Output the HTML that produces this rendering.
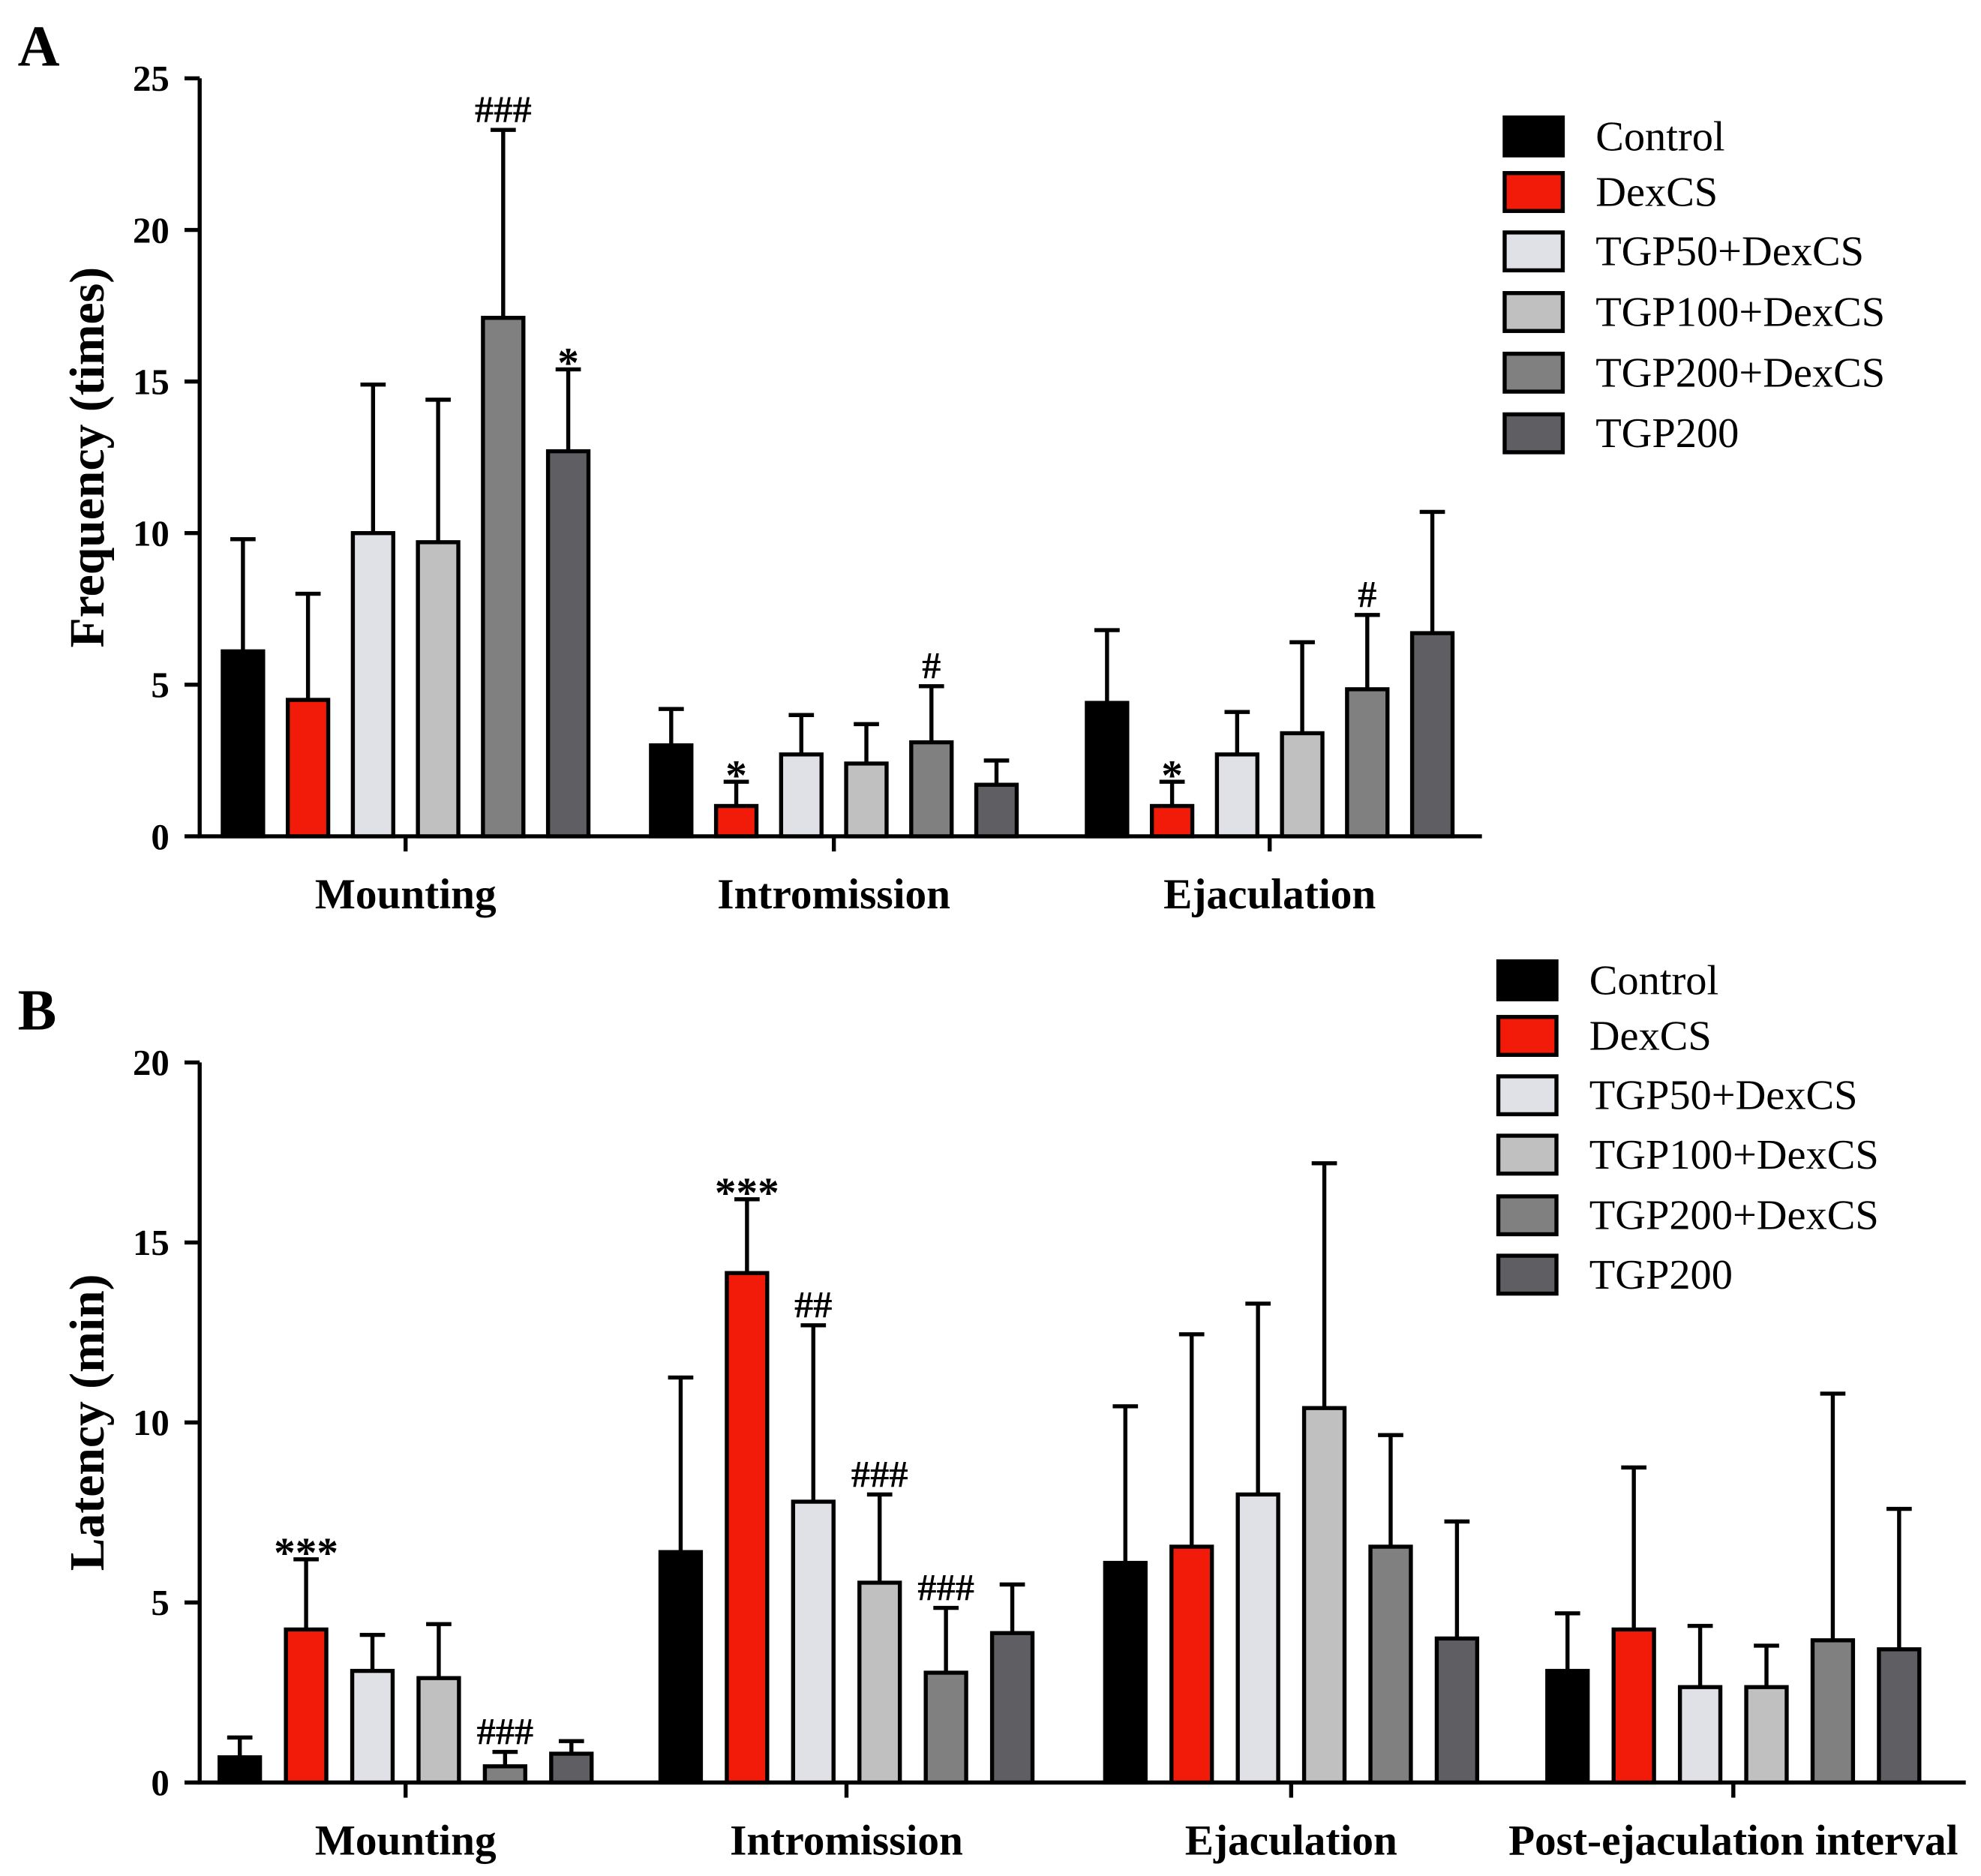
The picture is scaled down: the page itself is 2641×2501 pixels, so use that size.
<!DOCTYPE html>
<html><head><meta charset="utf-8"><style>html,body{margin:0;padding:0;background:#fff}svg{display:block}text{font-family:"Liberation Serif",serif;font-weight:bold;fill:#000}</style></head>
<body>
<svg id="chart" width="2641" height="2501" viewBox="0 0 1568 1485" xmlns="http://www.w3.org/2000/svg"></svg>
<script>
const seriesNames=["Control","DexCS","TGP50+DexCS","TGP100+DexCS","TGP200+DexCS","TGP200"];
const colors=["#000000","#f21b0a","#e0e1e6","#c0c0c0","#808080","#5f5f63"];
const catsA=["Mounting","Intromission","Ejaculation"];
const meansA=[[6.1,4.5,10.0,9.7,17.1,12.7],[3.0,1.0,2.7,2.4,3.1,1.7],[4.4,1.0,2.7,3.4,4.85,6.7]];
const errA=[[9.8,8.0,14.9,14.4,23.3,15.4],[4.2,1.8,4.0,3.7,4.95,2.5],[6.8,1.8,4.1,6.4,7.3,10.7]];
const sigA=[["","","","","###","*"],["","*","","","#",""],["","*","","","#",""]];
const ticksA=[0,5,10,15,20,25];
const catsB=["Mounting","Intromission","Ejaculation","Post-ejaculation interval"];
const meansB=[[0.7,4.25,3.1,2.9,0.45,0.8],[6.4,14.15,7.8,5.55,3.05,4.15],[6.1,6.55,8.0,10.4,6.55,4.0],[3.1,4.25,2.65,2.65,3.95,3.7]];
const errB=[[1.25,6.2,4.1,4.4,0.85,1.15],[11.25,16.2,12.7,8.0,4.85,5.5],[10.45,12.45,13.3,17.2,9.65,7.25],[4.7,8.75,4.35,3.8,10.8,7.6]];
const sigB=[["","***","","","###",""],["","***","##","###","###",""],["","","","","",""],["","","","","",""]];
const ticksB=[0,5,10,15,20];

const svg=document.getElementById('chart');
const NS="http://www.w3.org/2000/svg";
function mk(tag,attrs,parent){const e=document.createElementNS(NS,tag);for(const k in attrs)e.setAttribute(k,attrs[k]);(parent||svg).appendChild(e);return e;}

function panel(p){
  const g=mk('g',{});
  
  
  const y=v=>p.y0-(v/p.ymax)*(p.y0-p.ytop);
  const ax=mk('path',{d:`M${p.x0},${p.ytop} V${p.y0} H${p.xend}`,stroke:'#000','stroke-width':3.2,fill:'none'},g);
  
  
  p.ticks.forEach(t=>{
    mk('line',{x1:p.x0-12,x2:p.x0,y1:y(t),y2:y(t),stroke:'#000','stroke-width':3.2},g);
    const tl=mk('text',{x:p.x0-24,y:y(t)+10,'text-anchor':'end','font-size':29},g);
    tl.textContent=t;
    
    
  });
  const yt=mk('text',{x:0,y:0,transform:`translate(${p.titleX},${(p.y0+p.ytop)/2}) rotate(-90)`,'text-anchor':'middle','font-size':39},g);
  yt.textContent=p.title;
  
  
  const pl=mk('text',{x:14,y:p.letterY,'font-size':46},g);
  pl.textContent=p.letter;
  
  
  p.cats.forEach((c,i)=>{
    const cx=p.centers[i];
    mk('line',{x1:cx,x2:cx,y1:p.y0,y2:p.y0+12,stroke:'#000','stroke-width':3.2},g);
    const cl=mk('text',{x:cx,y:p.y0+57,'text-anchor':'middle','font-size':34},g);
    cl.textContent=c;
    
    
    p.means[i].forEach((m,s)=>{
      const bx=cx+(s-2.5)*p.step-p.bw/2;
      const r=mk('rect',{x:bx,y:y(m),width:p.bw,height:p.y0-y(m),fill:colors[s],stroke:'#000','stroke-width':3.2},g);
      
      
      const bc=bx+p.bw/2, ey=y(p.errs[i][s]);
      const eb=mk('path',{d:`M${bc},${y(m)} V${ey} M${bc-10},${ey} H${bc+10}`,stroke:'#000','stroke-width':3.2,fill:'none'},g);
      
      
      const sg=p.sig[i][s];
      if(sg){
        const st=mk('text',{x:bc,y:ey-(sg[0]=='*'?-6:6),'text-anchor':'middle','font-size':sg[0]=='*'?34:30},g);
        st.textContent=sg;
        
        
      }
    });
  });
  seriesNames.forEach((n,s)=>{
    const ry=p.legY[s];
    const lr=mk('rect',{x:p.legX,y:ry-14,width:46,height:30,fill:colors[s],stroke:'#000','stroke-width':3.2},g);
    
    
    const lt=mk('text',{x:p.legX+72,y:ry+12,'font-size':33.5,style:'font-weight:normal'},g);
    lt.textContent=n;
    
    
  });
}
panel({id:'a',letter:'A',letterY:52,title:'Frequency (times)',titleX:82,x0:158,xend:1173,y0:662,ytop:62,ymax:25,ticks:ticksA,
  cats:catsA,means:meansA,errs:errA,sig:sigA,centers:[321,660,1005],step:51.5,bw:32,
  legX:1191,legY:[107,151,198,246,294,342]});
panel({id:'b',letter:'B',letterY:815,title:'Latency (min)',titleX:82,x0:158,xend:1556,y0:1411,ytop:841,ymax:20,ticks:ticksB,
  cats:catsB,means:meansB,errs:errB,sig:sigB,centers:[321,670,1022,1372],step:52.5,bw:32,
  legX:1186,legY:[775,819,866,913,961,1008]});
</script>
</body></html>
